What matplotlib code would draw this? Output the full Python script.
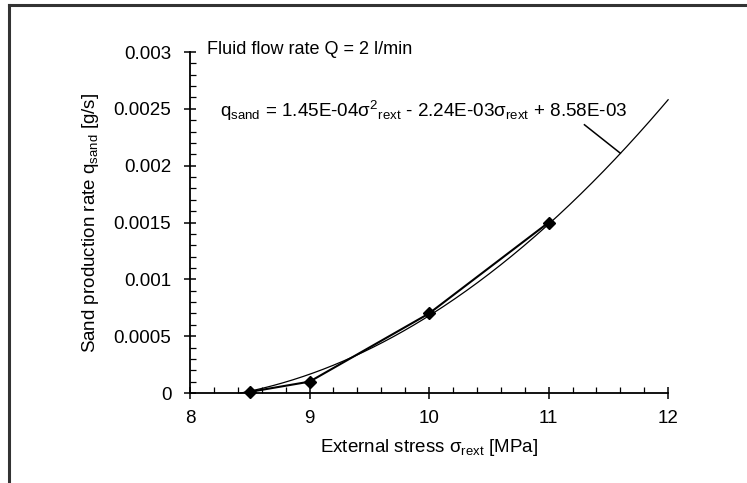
import matplotlib; matplotlib.use('Agg')
import matplotlib.pyplot as plt
from matplotlib.ticker import MultipleLocator, FixedFormatter, FixedLocator
from matplotlib.lines import Line2D
import numpy as np

# measured points
stress = [8.5, 9.0, 10.0, 11.0]
sand_rate = [0.00001, 0.0001, 0.0007, 0.0015]

# quadratic trendline coefficients as printed on the chart
fit_a, fit_b, fit_c = 1.45e-4, -2.24e-3, 8.58e-3
fit_range = (8.42, 12.0)

y_ticks = [0, 0.0005, 0.001, 0.0015, 0.002, 0.0025, 0.003]
y_tick_labels = ['0', '0.0005', '0.001', '0.0015', '0.002', '0.0025', '0.003']
x_ticks = [8, 9, 10, 11, 12]

plt.rcParams['font.family'] = ['Liberation Sans', 'DejaVu Sans']
plt.rcParams['mathtext.fontset'] = 'custom'
plt.rcParams['mathtext.rm'] = 'Liberation Sans'
plt.rcParams['mathtext.it'] = 'Liberation Sans'

fig = plt.figure(figsize=(7.47, 4.83), dpi=100)
# scan frame: only the top and left edges show
fig.lines.append(Line2D([0.012, 0.012], [0.0, 0.99], transform=fig.transFigure, color='#333333', linewidth=2.2))
fig.lines.append(Line2D([0.012, 1.0], [0.99, 0.99], transform=fig.transFigure, color='#333333', linewidth=2.2))

ax = fig.add_axes([0.2544, 0.1863, 0.640, 0.706])

xs = np.linspace(fit_range[0], fit_range[1], 300)
ys = fit_a * xs**2 + fit_b * xs + fit_c
ax.plot(xs, np.clip(ys, 0, None), color='black', linewidth=0.9, clip_on=False)
ax.plot(stress, sand_rate, color='black', linewidth=1.5, marker='D', markersize=6, clip_on=False)

ax.set_xlim(8, 12)
ax.set_ylim(0, 0.003)
for s in ['top', 'right']:
    ax.spines[s].set_visible(False)
for s in ['left', 'bottom']:
    ax.spines[s].set_linewidth(1.3)
ax.yaxis.set_major_locator(FixedLocator(y_ticks))
ax.yaxis.set_major_formatter(FixedFormatter(y_tick_labels))
ax.xaxis.set_major_locator(FixedLocator(x_ticks))
ax.xaxis.set_minor_locator(MultipleLocator(0.2))
ax.yaxis.set_minor_locator(MultipleLocator(0.0001))
ax.tick_params(which='major', direction='inout', length=9, width=1.1, labelsize=13.5)
ax.tick_params(which='minor', direction='in', length=4, width=0.9)
ax.tick_params(axis='x', which='major', pad=8)
ax.tick_params(axis='y', which='major', pad=9)

ax.set_xlabel(r'External stress $\mathregular{\sigma_{rext}}$ [MPa]', fontsize=13.5, labelpad=7)
ax.set_ylabel(r'Sand production rate $\mathregular{q_{sand}}$ [g/s]', fontsize=13.5, labelpad=9)

ax.text(8.14, 0.00302, 'Fluid flow rate Q = 2 l/min', fontsize=13, va='center', ha='left')
ax.text(8.25, 0.00248,
        r'$\mathregular{q_{sand}}$ = 1.45E-04$\mathregular{\sigma^{2}{}_{rext}}$ - 2.24E-03$\mathregular{\sigma_{rext}}$ + 8.58E-03',
        fontsize=13.6, va='center', ha='left')
ax.plot([11.3, 11.6], [0.00236, 0.00211], color='black', linewidth=1.1)

fig.savefig('out.png', dpi=100)
